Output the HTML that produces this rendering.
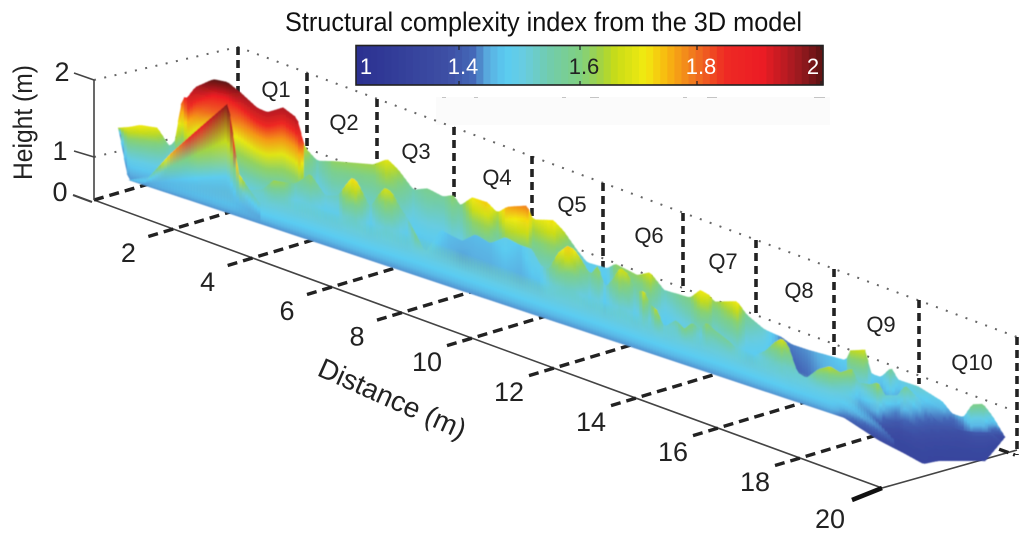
<!DOCTYPE html>
<html lang="en">
<head>
<meta charset="utf-8">
<title>Structural complexity index from the 3D model</title>
<style>
html,body{margin:0;padding:0;background:#fff;width:1024px;height:548px;overflow:hidden}
svg{display:block;font-family:"Liberation Sans",Arial,sans-serif}
</style>
</head>
<body>
<svg id="chart" xmlns="http://www.w3.org/2000/svg" width="1024" height="548" viewBox="0 0 1024 548">
  <defs>
    <filter id="soft" x="-5%" y="-5%" width="110%" height="110%"><feGaussianBlur stdDeviation="0.55"/></filter>
  </defs>
  <rect x="436" y="97" width="394" height="28" fill="#fbfbfb"/>
  <g stroke="#c4c4c4" stroke-width="1">
    <path d="M442 97.500h4M474 97.500h4M562 97.500h4M590 97.500h9M683 97.500h4M707 97.500h10M814 97.500h11"/>
  </g>

  <g fill="none">
    <polyline points="94,80 238,47 1017,337" stroke="#666" stroke-width="2" stroke-dasharray="2,8.500"/>
    <polyline points="94,157 238,123 1012,410" stroke="#666" stroke-width="2" stroke-dasharray="2,8.500"/>
    <g stroke="#222" stroke-width="3.600" stroke-dasharray="8,5">
      <line x1="238" y1="47" x2="238" y2="100"/>
      <line x1="307" y1="73" x2="307" y2="150"/>
      <line x1="377" y1="99" x2="377" y2="168"/>
      <line x1="454" y1="127" x2="454" y2="197"/>
      <line x1="532" y1="156" x2="532" y2="225"/>
      <line x1="603" y1="183" x2="603" y2="268"/>
      <line x1="683" y1="213" x2="683" y2="292"/>
      <line x1="756" y1="240" x2="756" y2="317"/>
      <line x1="834" y1="269" x2="834" y2="360"/>
      <line x1="919" y1="300" x2="919" y2="384"/>
      <line x1="1017" y1="337" x2="1017" y2="455"/>
    </g>
  </g>

  <g id="floor"></g>

  <g stroke="#444" stroke-width="1.600" fill="none">
    <line x1="94" y1="80" x2="94" y2="200"/>
    <line x1="74" y1="73" x2="94" y2="80"/>
    <line x1="74" y1="151" x2="94" y2="157"/>
    <line x1="73" y1="195" x2="92" y2="202" stroke-width="2"/>
  </g>
  <g font-size="27" fill="#222" text-anchor="middle">
    <text x="62" y="81">2</text>
    <text x="60" y="160">1</text>
    <text x="60" y="201">0</text>
  </g>
  <text transform="translate(32,180) rotate(-90)" font-size="27" fill="#222" textLength="115" lengthAdjust="spacingAndGlyphs">Height (m)</text>
  <text transform="translate(316,375) rotate(24)" font-size="28" fill="#222">Distance (m)</text>

  <g id="surface" filter="url(#soft)"></g>

  <g font-size="22" fill="#222" text-anchor="middle">
    <text x="276" y="97">Q1</text>
    <text x="344" y="130">Q2</text>
    <text x="416" y="159">Q3</text>
    <text x="497" y="185">Q4</text>
    <text x="572" y="212">Q5</text>
    <text x="649" y="243">Q6</text>
    <text x="723" y="269">Q7</text>
    <text x="799" y="298">Q8</text>
    <text x="881" y="332">Q9</text>
    <text x="972" y="370">Q10</text>
  </g>

  <text x="285" y="31" font-size="27" fill="#111" textLength="517" lengthAdjust="spacingAndGlyphs">Structural complexity index from the 3D model</text>
  <g id="colorbar"></g>
  <rect x="356" y="45.500" width="467" height="39.500" fill="none" stroke="#222" stroke-width="1.600"/>
  <g stroke="#222" stroke-width="1.200">
    <path d="M459 46v4M459 81v4M580 46v4M580 81v4M697 46v4M697 81v4M821 46v4M821 81v4"/>
  </g>
  <g font-size="22" text-anchor="middle">
    <text x="366" y="74" fill="#fff">1</text>
    <text x="463" y="74" fill="#fff">1.4</text>
    <text x="584" y="74" fill="#222">1.6</text>
    <text x="701" y="74" fill="#fff">1.8</text>
    <text x="813" y="74" fill="#fff">2</text>
  </g>
</svg>

<script>
// ---- Colour scale: complexity index along the colour bar ----
const colormapIndex = [1,1.2,1.25,1.283,1.32,1.36,1.41,1.48,1.53,1.555,1.62,1.665,1.73,1.79,1.87,1.945,2];
const colormapColors = ['#2b3090','#3e50a5','#4468b8','#5aaee0','#5accf2','#68cce0','#70ccb0','#80d080','#a8d43a','#c8dc18','#f2ea10','#f8b810','#f07020','#ee2a24','#ec1c24','#a01a20','#5a1212'];

// ---- Distance tick labels ----
const distanceTicks = [2,4,6,8,10,12,14,16,18];

// ---- Surface outline under the strip (m relative to the base line) ----
const outlineDistance = [-0.23,0,16.27,17.05,17.66,18.07,18.41,19.09,19.48,19.93];
const outlineHeight = [0.49,0,0,-0.11,-0.16,-0.20,-0.12,-0.02,0.035,0.34];

// ---- Back ridge of the reef ----
const backDistance = [-0.23,0,0.27,0.66,0.95,1.07,1.11,1.23,1.34,1.52,1.93,2.25,2.55,2.93,3.16,3.52,3.84,3.95,4.02,4.30,4.66,5.57,5.89,6.14,6.48,6.80,7.16,7.39,7.55,7.82,8.16,8.39,8.61,9.07,9.20,9.66,9.89,10.2,10.43,10.89,11.07,11.57,11.86,12.18,12.77,13.0,13.2,13.32,13.84,14.05,14.45,14.84,15.07,15.45,16.32,16.39,16.75,16.89,17.11,17.34,17.5,17.95,18.5,18.73,18.98,19.18,19.43,19.66,19.93];
const backHeight = [0.49,0.53,0.59,0.62,0.47,0.56,0.69,1.01,1.02,1.15,1.29,1.31,1.25,1.15,1.14,1.24,1.18,1.01,0.91,0.82,0.87,0.97,1.07,1.00,0.85,0.91,0.88,0.93,0.85,0.97,0.97,0.90,0.99,1.07,0.95,1.01,0.94,0.79,0.70,0.71,0.78,0.74,0.81,0.68,0.69,0.80,0.78,0.73,0.81,0.71,0.62,0.60,0.56,0.56,0.58,0.69,0.75,0.53,0.53,0.66,0.56,0.56,0.49,0.40,0.40,0.56,0.60,0.50,0.34];
const backIndex = [1.58,1.60,1.62,1.60,1.42,1.45,1.62,1.75,1.88,1.93,2.0,2.0,1.95,1.92,1.92,1.93,1.92,1.85,1.55,1.42,1.50,1.52,1.60,1.53,1.42,1.46,1.44,1.50,1.45,1.62,1.65,1.55,1.68,1.72,1.58,1.63,1.55,1.42,1.34,1.33,1.50,1.50,1.58,1.40,1.48,1.62,1.60,1.50,1.62,1.45,1.38,1.26,1.26,1.27,1.33,1.54,1.57,1.35,1.33,1.45,1.35,1.38,1.33,1.27,1.30,1.47,1.47,1.35,1.22];

// ---- Middle hills ----
const midDistance = [2.55,3.05,3.30,3.57,3.80,4.14,4.48,4.77,4.91,5.07,5.18,5.32,5.50,5.68,5.84,6.0,6.18,6.34,6.55,6.75,7.09,7.32,7.59,7.89,8.23,8.57,8.91,9.18,9.36,9.55,9.77,9.98,10.14,10.32,10.50,10.68,10.84,11.0,11.18,11.36,11.55,11.73,11.86,12.02,12.18,12.45,12.64,12.82,13.0,13.14,13.32,13.68,13.91,14.07,14.25,14.48,14.70,14.86,15.0,15.2,15.41,15.68,15.95,16.18,16.45,16.59,16.86,17.05,17.2,17.48,17.66,17.89,18.11,18.34,18.57,18.91,19.25,19.59,19.82];
const midHeight = [0.27,0.35,0.48,0.50,0.52,0.67,0.50,0.54,0.65,0.76,0.76,0.66,0.53,0.68,0.78,0.75,0.63,0.55,0.41,0.26,0.54,0.52,0.50,0.61,0.57,0.68,0.65,0.65,0.52,0.50,0.70,0.80,0.79,0.70,0.59,0.71,0.51,0.61,0.76,0.72,0.57,0.61,0.49,0.46,0.31,0.42,0.36,0.45,0.40,0.50,0.45,0.38,0.31,0.18,0.33,0.41,0.53,0.59,0.54,0.30,0.27,0.40,0.47,0.44,0.52,0.40,0.42,0.47,0.36,0.40,0.53,0.46,0.40,0.28,0.26,0.26,0.29,0.34,0.29];
const midIndex = [1.36,1.40,1.52,1.50,1.42,1.50,1.38,1.40,1.55,1.63,1.63,1.52,1.38,1.50,1.58,1.55,1.44,1.38,1.46,1.35,1.33,1.30,1.29,1.30,1.30,1.34,1.31,1.36,1.34,1.42,1.58,1.65,1.62,1.52,1.44,1.52,1.36,1.47,1.58,1.55,1.40,1.58,1.44,1.56,1.36,1.42,1.48,1.48,1.38,1.50,1.46,1.44,1.34,1.28,1.33,1.42,1.52,1.58,1.52,1.38,1.36,1.50,1.55,1.50,1.52,1.38,1.44,1.52,1.38,1.36,1.45,1.37,1.30,1.24,1.22,1.20,1.22,1.22,1.20];

// ---- Smooth light-blue apron along the front edge ----
const apronDistance = [0,0.4,1.2,2.5,3.9,5.3,6.6,8.0,9.4,10.7,12.1,13.5,14.9,16.3,16.9,17.4];
const apronHeight = [0,0.10,0.22,0.30,0.36,0.36,0.40,0.38,0.36,0.36,0.34,0.36,0.32,0.30,0.12,-0.05];
const apronIndex = [1.34,1.36,1.40,1.42,1.42,1.42,1.42,1.42,1.42,1.42,1.42,1.42,1.42,1.40,1.33,1.27];

// ---- Interpolated facet under the Q1 peak ----
const facetDistance = [0.34,0.95,1.60,2.27,2.36,2.50,2.77,3.0];
const facetHeight = [0.02,0.40,0.75,1.10,0.89,0.44,0.30,0.20];
const facetIndex = [1.30,1.66,1.86,1.97,1.90,1.62,1.42,1.38];

// ---- Axis functions ----
const svgNS = 'http://www.w3.org/2000/svg';
const surfaceOriginX = 128, surfacePxPerM = 44, surfaceOriginY = 180, edgeSlope = 0.332, zPx = 100;
const xOf = d => surfaceOriginX + d * surfacePxPerM;
const baseY = x => surfaceOriginY + edgeSlope * (x - surfaceOriginX);
const axisKnotD = [0,6,10,20];
const axisKnotX = [94,332,472,882];
const axisX = d => interp(axisKnotD, axisKnotX, d);
const axisY = x => 200 + 0.3655 * (x - 94);

function interp(xs, ys, x) {
  if (x <= xs[0]) return ys[0];
  for (let i = 1; i < xs.length; i++) {
    if (x <= xs[i]) {
      const t = (x - xs[i-1]) / (xs[i] - xs[i-1]);
      return ys[i-1] + (ys[i] - ys[i-1]) * t;
    }
  }
  return ys[ys.length - 1];
}
function hexRgb(h) {
  return [parseInt(h.slice(1,3),16), parseInt(h.slice(3,5),16), parseInt(h.slice(5,7),16)];
}
const colormapRgb = colormapColors.map(hexRgb);
function colorOf(v) {
  const r = interp(colormapIndex, colormapRgb.map(c => c[0]), v);
  const g = interp(colormapIndex, colormapRgb.map(c => c[1]), v);
  const b = interp(colormapIndex, colormapRgb.map(c => c[2]), v);
  return 'rgb(' + Math.round(r) + ',' + Math.round(g) + ',' + Math.round(b) + ')';
}
function floorIndex(d) {
  if (d < 16) return 1.27;
  if (d > 17.5) return 1.13;
  return 1.27 - 0.14 * (d - 16) / 1.5;
}

// ---- Colour bar ----
const colorbarGroup = document.getElementById('colorbar');
const colorbarSteps = 66;
for (let i = 0; i < colorbarSteps; i++) {
  const r = document.createElementNS(svgNS, 'rect');
  
  
  r.setAttribute('x', 356 + 467 * i / colorbarSteps);
  r.setAttribute('y', 45.5);
  r.setAttribute('width', 467 / colorbarSteps + 0.6);
  r.setAttribute('height', 39.5);
  r.setAttribute('fill', colorOf(1 + (i + 0.5) / colorbarSteps));
  colorbarGroup.appendChild(r);
}

// ---- Floor: axis, ticks, labels ----
const floorGroup = document.getElementById('floor');
function addLine(x1, y1, x2, y2, stroke, width, dash, name) {
  const l = document.createElementNS(svgNS, 'line');
  
  
  l.setAttribute('x1', x1); l.setAttribute('y1', y1);
  l.setAttribute('x2', x2); l.setAttribute('y2', y2);
  l.setAttribute('stroke', stroke);
  l.setAttribute('stroke-width', width);
  if (dash) l.setAttribute('stroke-dasharray', dash);
  floorGroup.appendChild(l);
}
function addTickLabel(text, x, y) {
  const t = document.createElementNS(svgNS, 'text');
  
  
  t.setAttribute('x', x); t.setAttribute('y', y);
  t.setAttribute('font-size', 27);
  t.setAttribute('fill', '#222');
  t.setAttribute('text-anchor', 'middle');
  t.textContent = text;
  floorGroup.appendChild(t);
}
addLine(94, 200, axisX(20), axisY(axisX(20)), '#444', 1.6, null, 'distance-axis-line');
addLine(axisX(20), axisY(axisX(20)), 1017, 450, '#444', 1.6, null, 'floor-right-edge');
addLine(94, 200, 152, 183, '#222', 3.4, '10,6', 'distance-tick-0');
addLine(985, 444, 1015, 455, '#222', 3.4, '10,5', 'floor-back-corner-tick');
distanceTicks.forEach(d => {
  const xa = axisX(d), ya = axisY(xa);
  const k = 0.3;
  const xs = xa - 25, ys = ya + 25 * k;
  const xe = (ya + k * xa - surfaceOriginY + edgeSlope * surfaceOriginX) / (edgeSlope + k) + 6;
  addLine(xs, ys, xe, ya - k * (xe - xa), '#222', 3.4, '10,6', 'distance-tick');
  addTickLabel(String(d), xa - 45, ya + 33);
});
addLine(852, 500, axisX(20), axisY(axisX(20)), '#111', 4.5, null, 'distance-tick-20');
addTickLabel('20', 830, 528);

// ---- Surface drawn as thin columns coloured through the colour scale ----
const surfaceGroup = document.getElementById('surface');
const defs = document.querySelector('defs');
let gradientCount = 0;
function drawLayer(ds, hs, vs, samples, exponent, fade, name) {
  const group = document.createElementNS(svgNS, 'g');
  
  
  const stepPx = 3;
  const xStart = xOf(ds[0]), xEnd = xOf(ds[ds.length - 1]);
  for (let x = xStart; x < xEnd; x += stepPx) {
    const x1 = Math.min(x + stepPx, xEnd);
    const d0 = (x - surfaceOriginX) / surfacePxPerM;
    const d1 = (x1 - surfaceOriginX) / surfacePxPerM;
    const dm = (d0 + d1) / 2;
    const top0 = baseY(x) - zPx * interp(ds, hs, d0);
    const top1 = baseY(x1) - zPx * interp(ds, hs, d1);
    const bot0 = baseY(x) - zPx * interp(outlineDistance, outlineHeight, d0);
    const bot1 = baseY(x1) - zPx * interp(outlineDistance, outlineHeight, d1);
    const topY = (top0 + top1) / 2, botY = (bot0 + bot1) / 2;
    if (topY >= botY - 0.2) continue;
    const vTop = interp(ds, vs, dm);
    const vFloor = Math.min(floorIndex(dm), vTop - 0.03);
    const id = 'col' + (gradientCount++);
    const grad = document.createElementNS(svgNS, 'linearGradient');
    grad.setAttribute('id', id);
    grad.setAttribute('gradientUnits', 'userSpaceOnUse');
    grad.setAttribute('x1', 0); grad.setAttribute('x2', 0);
    grad.setAttribute('y1', botY); grad.setAttribute('y2', topY);
    for (let s = 0; s < samples; s++) {
      const f = s / (samples - 1);
      const st = document.createElementNS(svgNS, 'stop');
      st.setAttribute('offset', f);
      st.setAttribute('stop-color', colorOf(vFloor + (vTop - vFloor) * Math.pow(f, exponent)));
      if (fade === 'top' && f > 0.55) st.setAttribute('stop-opacity', Math.max(0, (1 - f) / 0.45));
      if (fade === 'bottom' && f < 0.3) st.setAttribute('stop-opacity', f / 0.3);
      grad.appendChild(st);
    }
    defs.appendChild(grad);
    const p = document.createElementNS(svgNS, 'path');
    
    
    p.setAttribute('d', 'M' + x.toFixed(1) + ' ' + top0.toFixed(1) +
      'L' + (x1 + 0.5).toFixed(1) + ' ' + top1.toFixed(1) +
      'L' + (x1 + 0.5).toFixed(1) + ' ' + bot1.toFixed(1) +
      'L' + x.toFixed(1) + ' ' + bot0.toFixed(1) + 'Z');
    p.setAttribute('fill', 'url(#' + id + ')');
    group.appendChild(p);
  }
  surfaceGroup.appendChild(group);
}
drawLayer(backDistance, backHeight, backIndex, 9, 1.5, false, 'back-ridge-layer');
drawLayer(midDistance, midHeight, midIndex, 7, 1.5, false, 'middle-hills-layer');
drawLayer(apronDistance, apronHeight, apronIndex, 7, 1, 'top', 'front-apron-layer');
drawLayer(facetDistance, facetHeight, facetIndex, 4, 2.2, 'bottom', 'peak-facet-layer');
</script>
</body>
</html>
